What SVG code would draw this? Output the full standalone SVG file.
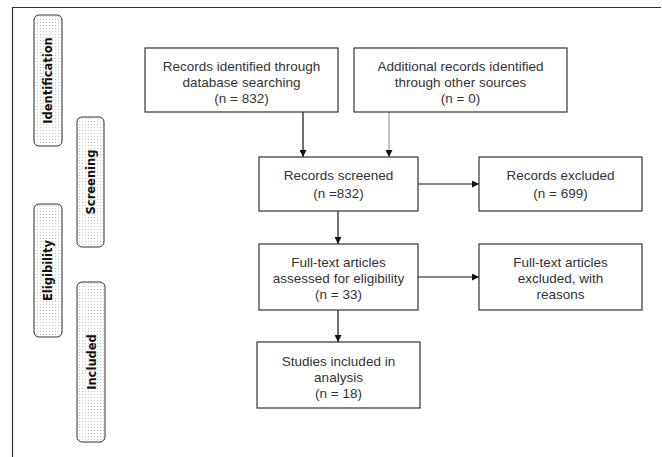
<svg xmlns="http://www.w3.org/2000/svg" width="662" height="457" viewBox="0 0 662 457">
<defs>
<pattern id="dots" width="3" height="3" patternUnits="userSpaceOnUse">
<rect width="3" height="3" fill="#ffffff"/>
<rect x="1" y="1" width="1" height="1" fill="#c8c8c8"/>
</pattern>
<marker id="ah" viewBox="0 0 10 10" refX="10" refY="5" markerWidth="7" markerHeight="7" markerUnits="userSpaceOnUse" orient="auto">
<path d="M0,0 L10,5 L0,10 z" fill="#111"/>
</marker>
</defs>
<style>
.box{fill:#fff;stroke:#333;stroke-width:1.2}
.t{font-family:"Liberation Sans",Arial,sans-serif;font-size:13.5px;fill:#333;text-anchor:middle}
.lab{fill:url(#dots);stroke:#333;stroke-width:1}
.lt{font-family:"DejaVu Sans",sans-serif;font-weight:bold;font-size:11.5px;fill:#111;text-anchor:middle}
.c{stroke:#111;stroke-width:1.2;fill:none}
</style>
<rect width="662" height="457" fill="#fff"/>
<path d="M12.5,460 V7.5 H661" fill="none" stroke="#333" stroke-width="1.2"/>

<g id="lab-identification">
<rect class="lab" x="34" y="15" width="28" height="131" rx="5"/>
<text class="lt" transform="translate(52,80.5) rotate(-90)">Identification</text>
</g>
<g id="lab-screening">
<rect class="lab" x="77" y="117" width="27" height="130" rx="5"/>
<text class="lt" transform="translate(94.5,182) rotate(-90)">Screening</text>
</g>
<g id="lab-eligibility">
<rect class="lab" x="34" y="204" width="28" height="133" rx="5"/>
<text class="lt" transform="translate(52,270.5) rotate(-90)">Eligibility</text>
</g>
<g id="lab-included">
<rect class="lab" x="77" y="282" width="28" height="160" rx="5"/>
<text class="lt" transform="translate(95.5,362) rotate(-90)">Included</text>
</g>

<g id="connectors">
<line class="c" x1="303" y1="112" x2="303" y2="157" marker-end="url(#ah)"/>
<line x1="389" y1="112" x2="389" y2="157" stroke="#888" stroke-width="1" marker-end="url(#ah)"/>
<line class="c" x1="338" y1="211" x2="338" y2="244" marker-end="url(#ah)"/>
<line class="c" x1="338" y1="310" x2="338" y2="342" marker-end="url(#ah)"/>
<line class="c" x1="418" y1="184" x2="479" y2="184" marker-end="url(#ah)"/>
<line class="c" x1="418" y1="277" x2="479" y2="277" marker-end="url(#ah)"/>
</g>

<g id="n-database">
<rect class="box" x="145" y="48" width="193" height="64"/>
<text class="t" x="241.5" y="71">Records identified through</text>
<text class="t" x="241.5" y="87">database searching</text>
<text class="t" x="241.5" y="103">(n = 832)</text>
</g>
<g id="n-other">
<rect class="box" x="354" y="48" width="213" height="64"/>
<text class="t" x="460.5" y="71">Additional records identified</text>
<text class="t" x="460.5" y="87">through other sources</text>
<text class="t" x="460.5" y="103">(n = 0)</text>
</g>
<g id="n-screened">
<rect class="box" x="259" y="157" width="159" height="54"/>
<text class="t" x="338.5" y="180">Records screened</text>
<text class="t" x="338.5" y="198">(n =832)</text>
</g>
<g id="n-excluded">
<rect class="box" x="479" y="157" width="163" height="54"/>
<text class="t" x="560.5" y="180">Records excluded</text>
<text class="t" x="560.5" y="198">(n = 699)</text>
</g>
<g id="n-fulltext">
<rect class="box" x="259" y="244" width="159" height="66"/>
<text class="t" x="338.5" y="267">Full-text articles</text>
<text class="t" x="338.5" y="283">assessed for eligibility</text>
<text class="t" x="338.5" y="299">(n = 33)</text>
</g>
<g id="n-ftexcluded">
<rect class="box" x="479" y="244" width="163" height="66"/>
<text class="t" x="560.5" y="267">Full-text articles</text>
<text class="t" x="560.5" y="283">excluded, with</text>
<text class="t" x="560.5" y="299">reasons</text>
</g>
<g id="n-included">
<rect class="box" x="257" y="342" width="163" height="66"/>
<text class="t" x="338.5" y="366">Studies included in</text>
<text class="t" x="338.5" y="382">analysis</text>
<text class="t" x="338.5" y="398">(n = 18)</text>
</g>
</svg>
